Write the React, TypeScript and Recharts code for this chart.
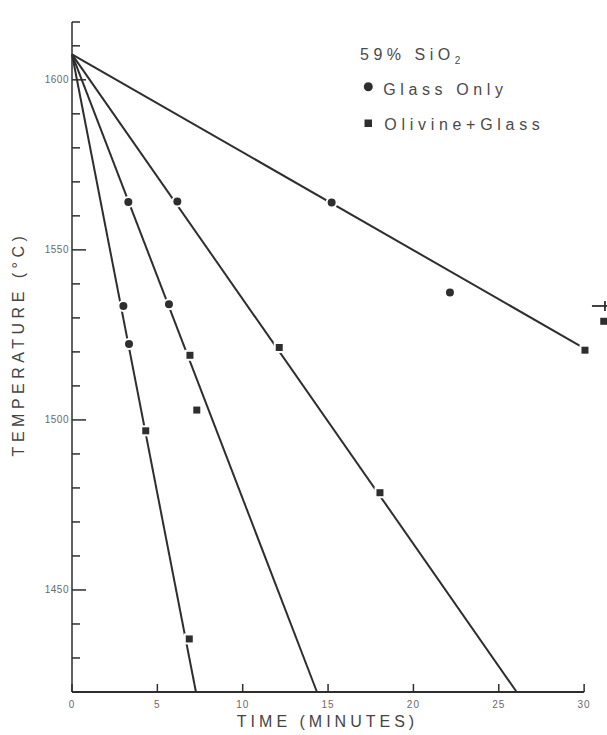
import React from "react";
import { ComposedChart, Line, Scatter, XAxis, YAxis, Legend, ReferenceLine } from "recharts";

const FONT = '"Liberation Sans", Arial, Helvetica, sans-serif';
const INK = "#2e2e2e";

// fitted cooling lines: all start at time 0 and end where they leave the plot
const FIT_START_TEMP = 1607.5;
const FIT_END_TIMES = [7.26, 14.35, 26.05, 29.86];
const FIT_END_TEMPS = [1420, 1420, 1420, 1521.5];

// Glass Only (circles)
const GLASS_TIMES = [3.3, 6.17, 15.21, 22.14, 3.01, 5.68, 3.34];
const GLASS_TEMPS = [1564.1, 1564.2, 1563.9, 1537.5, 1533.5, 1534.0, 1522.3];

// Olivine + Glass (squares)
const OLIVINE_TIMES = [6.91, 7.31, 4.32, 6.87, 12.14, 18.04, 30.05, 31.15];
const OLIVINE_TEMPS = [1519.0, 1502.9, 1496.8, 1435.6, 1521.3, 1478.6, 1520.5, 1529.0];

// the clipped "+" mark at the right edge
const EXTRA_TIMES = [31.22];
const EXTRA_TEMPS = [1533.5];

const X_TICKS = [0, 5, 10, 15, 20, 25, 30];
const X_MAX = 31.34;
const Y_MIN = 1420;
const Y_MAX = 1617;
const Y_TICKS = [1430, 1440, 1450, 1460, 1470, 1480, 1490, 1500, 1510, 1520, 1530, 1540, 1550, 1560, 1570, 1580, 1590, 1600, 1610, Y_MAX];

const fitLines = FIT_END_TIMES.map((t, i) => [
  { t: 0, T: FIT_START_TEMP },
  { t, T: FIT_END_TEMPS[i] },
]);
const glassPts = GLASS_TIMES.map((t, i) => ({ t, T: GLASS_TEMPS[i] }));
const olivinePts = OLIVINE_TIMES.map((t, i) => ({ t, T: OLIVINE_TEMPS[i] }));
const extraPts = EXTRA_TIMES.map((t, i) => ({ t, T: EXTRA_TEMPS[i] }));

const CircleMark = (p: any) => (
  <circle cx={p.cx} cy={p.cy} r={5} fill={INK} stroke="#fff" strokeWidth={2} />
);
const SquareMark = (p: any) => (
  <rect x={p.cx - 4.5} y={p.cy - 4.5} width={9} height={9} fill={INK} stroke="#fff" strokeWidth={2} />
);
const PlusMark = (p: any) => (
  <g stroke={INK} strokeWidth={1.8}>
    <line x1={p.cx - 13} x2={p.cx + 3} y1={p.cy} y2={p.cy} />
    <line x1={p.cx} x2={p.cx} y1={p.cy - 5} y2={p.cy + 5} />
  </g>
);

// tick lines point into the plot (negative tickSize); labels sit outside
const Y_TICK_LEN = 8;
const X_TICK_LEN = 8;

const YTick = (props: any) => {
  const { x, y, payload } = props;
  if (payload.value % 50 !== 0) return <g />;
  return (
    <g>
      <line x1={x + 10} x2={x + 16} y1={y} y2={y} stroke={INK} strokeWidth={1.5} />
      <text x={x - 1} y={y + 3.5} textAnchor="end" fontSize={10} fill="#6a6a6a" fontFamily={FONT} style={{ letterSpacing: 0.5 }}>
        {payload.value}
      </text>
    </g>
  );
};

const XTick = (props: any) => {
  const { x, y, payload } = props;
  return (
    <text x={x} y={y + 16} textAnchor="middle" fontSize={10} fill="#6a6a6a" fontFamily={FONT} style={{ letterSpacing: 1 }}>
      {payload.value}
    </text>
  );
};

const LegendBox = () => (
  <svg width={240} height={100} style={{ display: "block" }}>
    <text x={5} y={20} fontSize={16} fill="#4a4a4a" fontFamily={FONT} style={{ letterSpacing: 4.5 }}>
      59% SiO<tspan fontSize={10} dy={4}>2</tspan>
    </text>
    <circle cx={13.3} cy={46.7} r={4.5} fill={INK} />
    <text x={28.3} y={55} fontSize={16} fill="#4a4a4a" fontFamily={FONT} style={{ letterSpacing: 4.6 }}>
      Glass Only
    </text>
    <rect x={9.5} y={79.5} width={7.5} height={7.5} fill={INK} />
    <text x={29.3} y={90} fontSize={16} fill="#4a4a4a" fontFamily={FONT} style={{ letterSpacing: 4.7 }}>
      Olivine+Glass
    </text>
  </svg>
);

export default function App() {
  return (
    <div style={{ position: "absolute", left: 0, top: 0, background: "#fff" }}>
      <ComposedChart width={607} height={735} margin={{ top: 22, right: 0, bottom: 0, left: 0 }}>
        <XAxis
          dataKey="t"
          type="number"
          domain={[0, X_MAX]}
          ticks={X_TICKS}
          height={43}
          axisLine={false}
          tickLine={{ stroke: INK, strokeWidth: 1.5 }}
          tickSize={-X_TICK_LEN}
          tickMargin={X_TICK_LEN}
          tick={<XTick />}
          interval={0}
          label={{
            content: ({ viewBox }: any) => (
              <text
                x={viewBox.x + viewBox.width / 2 - 12}
                y={viewBox.y + 35}
                textAnchor="middle"
                fontSize={16}
                fill="#444"
                fontFamily={FONT}
                style={{ letterSpacing: 4 }}
              >
                TIME (MINUTES)
              </text>
            ),
          }}
        />
        <YAxis
          dataKey="T"
          type="number"
          domain={[Y_MIN, Y_MAX]}
          ticks={Y_TICKS}
          width={72}
          axisLine={{ stroke: INK, strokeWidth: 1.5 }}
          tickLine={{ stroke: INK, strokeWidth: 1.5 }}
          tickSize={-Y_TICK_LEN}
          tickMargin={Y_TICK_LEN + 2}
          tick={<YTick />}
          interval={0}
          label={{
            content: ({ viewBox }: any) => {
              const cx = 24;
              const cy = viewBox.y + viewBox.height / 2 - 13;
              return (
                <text
                  x={cx}
                  y={cy}
                  transform={`rotate(-90 ${cx} ${cy})`}
                  textAnchor="middle"
                  fontSize={16}
                  fill="#444"
                  fontFamily={FONT}
                  style={{ letterSpacing: 4.5 }}
                >
                  TEMPERATURE (°C)
                </text>
              );
            },
          }}
        />
        <ReferenceLine
          segment={[
            { x: 0, y: Y_MIN },
            { x: X_TICKS[X_TICKS.length - 1], y: Y_MIN },
          ]}
          stroke={INK}
          strokeWidth={1.8}
        />
        {fitLines.map((d, i) => (
          <Line
            key={i}
            data={d}
            dataKey="T"
            type="linear"
            stroke={INK}
            strokeWidth={2}
            dot={false}
            activeDot={false}
            legendType="none"
            isAnimationActive={false}
          />
        ))}
        <Scatter name="Glass Only" data={glassPts} dataKey="T" shape={CircleMark} isAnimationActive={false} />
        <Scatter name="Olivine+Glass" data={olivinePts} dataKey="T" shape={SquareMark} isAnimationActive={false} />
        <Scatter data={extraPts} dataKey="T" shape={PlusMark} legendType="none" isAnimationActive={false} />
        <Legend
          layout="horizontal"
          verticalAlign="middle"
          align="center"
          content={<LegendBox />}
          wrapperStyle={{ left: 355, top: 40, width: 240, height: 100 }}
        />
      </ComposedChart>
    </div>
  );
}
